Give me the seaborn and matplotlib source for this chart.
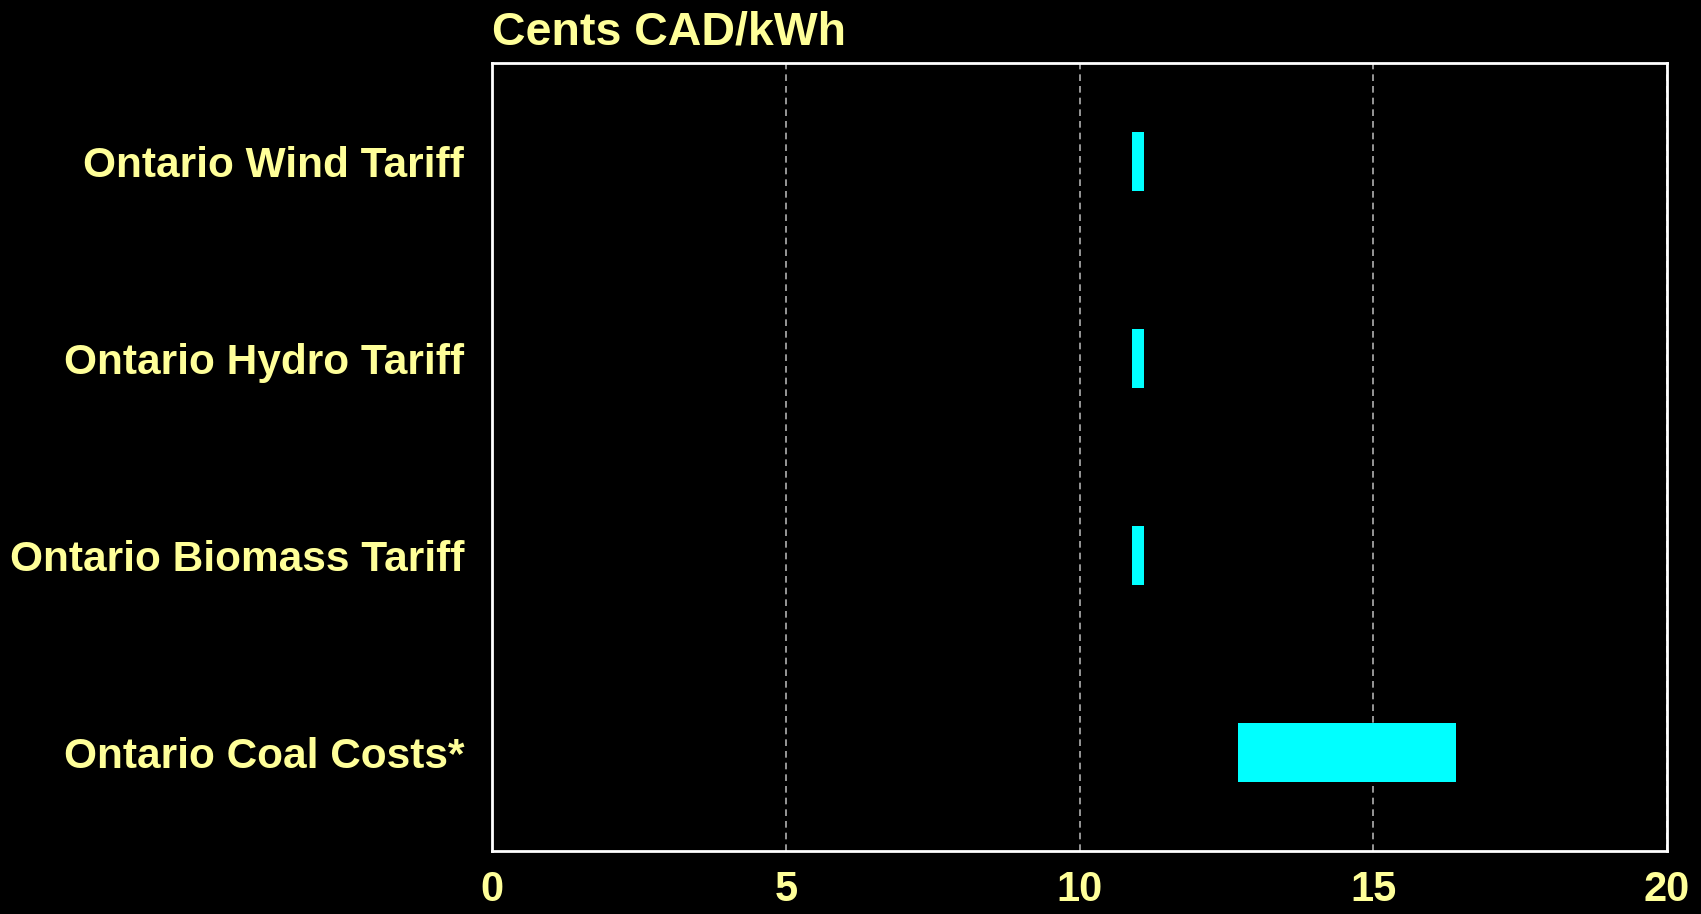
import numpy as np
import pandas as pd
import seaborn as sns
import matplotlib
matplotlib.use("Agg")
import matplotlib.pyplot as plt

# data (cents CAD/kWh, low and high end of each range)
categories = ["Ontario Wind Tariff", "Ontario Hydro Tariff",
              "Ontario Biomass Tariff", "Ontario Coal Costs*"]
low = [10.9, 10.9, 10.9, 12.7]
high = [11.1, 11.1, 11.1, 16.4]
xticks = [0, 5, 10, 15, 20]

df = pd.DataFrame({"cat": categories, "low": low, "high": high})
df["span"] = df["high"] - df["low"]

sns.set_theme(style="dark")
plt.rcParams["font.family"] = ["Liberation Sans", "DejaVu Sans"]
txt = "#FFFF99"

fig = plt.figure(figsize=(17.01, 9.14), dpi=100, facecolor="black")
ax = fig.add_axes([492 / 1701, 1 - 851 / 914, (1667 - 492) / 1701, (851 - 63) / 914])
ax.set_facecolor("black")

sns.barplot(data=df, x="span", y="cat", order=categories, orient="h",
            left=df["low"].to_numpy(), color="#00FFFF", saturation=1,
            width=0.3, errorbar=None, linewidth=0, ax=ax)

ax.set_xlim(0, 20)
ax.set_ylim(3.5, -0.5)
ax.set_xticks(xticks)
ax.set_xticklabels([str(t) for t in xticks])
ax.xaxis.grid(True, linestyle=(0, (4, 3)), color="#b0b0b0", linewidth=1.2)
ax.yaxis.grid(False)
ax.set_axisbelow(True)
ax.set_xlabel("")
ax.set_ylabel("")
ax.tick_params(axis="both", length=0, colors=txt)
ax.tick_params(axis="x", labelsize=30, pad=14)
ax.tick_params(axis="y", labelsize=30.5, pad=20)
for lab in ax.get_xticklabels() + ax.get_yticklabels():
    lab.set_fontweight("bold")
    lab.set_color(txt)
for pos in ["top", "bottom", "right", "left"]:
    ax.spines[pos].set_color("white")
    ax.spines[pos].set_linewidth(2)

ax.set_title("Cents CAD/kWh", loc="left", color=txt, fontsize=33.5,
             fontweight="bold", pad=13)

fig.savefig("out.png", dpi=100, facecolor="black")
